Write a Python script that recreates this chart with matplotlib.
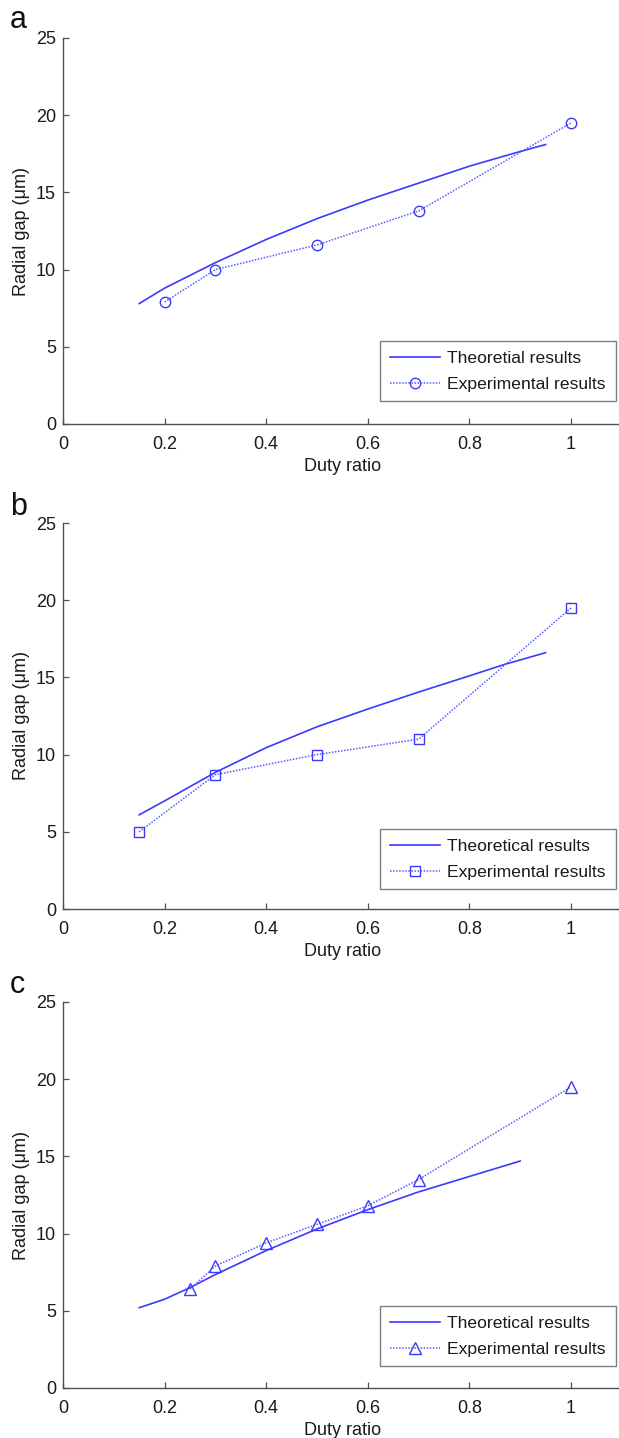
import matplotlib
matplotlib.use("Agg")
import matplotlib.pyplot as plt

plt.rcParams['font.family'] = ['Liberation Sans', 'DejaVu Sans']

# ---- data ----
theo_a_x = [0.15, 0.2, 0.3, 0.4, 0.5, 0.6, 0.7, 0.8, 0.9, 0.95]
theo_a_y = [7.8, 8.8, 10.45, 11.95, 13.3, 14.5, 15.6, 16.7, 17.65, 18.1]
exp_a_x = [0.2, 0.3, 0.5, 0.7, 1.0]
exp_a_y = [7.9, 10.0, 11.6, 13.8, 19.5]

theo_b_x = [0.15, 0.2, 0.3, 0.4, 0.5, 0.6, 0.7, 0.8, 0.87, 0.95]
theo_b_y = [6.1, 7.0, 8.85, 10.45, 11.8, 12.95, 14.05, 15.1, 15.85, 16.6]
exp_b_x = [0.15, 0.3, 0.5, 0.7, 1.0]
exp_b_y = [5.0, 8.7, 10.0, 11.0, 19.5]

theo_c_x = [0.15, 0.2, 0.25, 0.3, 0.4, 0.5, 0.6, 0.7, 0.8, 0.9]
theo_c_y = [5.2, 5.75, 6.5, 7.35, 8.9, 10.3, 11.55, 12.7, 13.7, 14.7]
exp_c_x = [0.25, 0.3, 0.4, 0.5, 0.6, 0.7, 1.0]
exp_c_y = [6.4, 7.9, 9.4, 10.6, 11.8, 13.5, 19.5]

panel_letters = ['a', 'b', 'c']
theo_labels = ['Theoretial results', 'Theoretical results', 'Theoretical results']
exp_label = 'Experimental results'
markers = ['o', 's', '^']
x_ticks = [0, 0.2, 0.4, 0.6, 0.8, 1]
x_ticklabels = ['0', '0.2', '0.4', '0.6', '0.8', '1']
y_ticks = [0, 5, 10, 15, 20, 25]

theo_x = [theo_a_x, theo_b_x, theo_c_x]
theo_y = [theo_a_y, theo_b_y, theo_c_y]
exp_x = [exp_a_x, exp_b_x, exp_c_x]
exp_y = [exp_a_y, exp_b_y, exp_c_y]

W, H = 619, 1438
fig = plt.figure(figsize=(W / 100, H / 100), dpi=100)

left_px = 63
px_per_unit = 508.0
tops = [38, 523, 1002]
bottoms = [424, 909, 1388]
legend_tops = [341, 829, 1306]
letter_base = [28, 515, 993]

line_col = '#3a3aff'
spine_col = '#505050'
txt_col = '#1a1a1a'

for i in range(3):
    ax_w = W - left_px
    hpx = bottoms[i] - tops[i]
    ax = fig.add_axes([left_px / W, 1 - bottoms[i] / H, ax_w / W, hpx / H])
    ax.plot(theo_x[i], theo_y[i], '-', color=line_col, lw=1.2,
            label=theo_labels[i])
    ax.plot(exp_x[i], exp_y[i], linestyle=(0, (1, 1)), color='#5a5aff', lw=1.1,
            marker=markers[i], markersize=8 if i == 2 else 7.5,
            markerfacecolor='none', markeredgecolor=line_col,
            markeredgewidth=1.0, label=exp_label)
    ax.set_xlim(0, ax_w / px_per_unit)
    ax.set_ylim(0, 25)
    ax.set_xticks(x_ticks)
    ax.set_xticklabels(x_ticklabels)
    ax.set_yticks(y_ticks)
    for s in ['top', 'right']:
        ax.spines[s].set_visible(False)
    for s in ['left', 'bottom']:
        ax.spines[s].set_color(spine_col)
        ax.spines[s].set_linewidth(1.0)
    ax.tick_params(direction='in', length=4, width=0.9, color=spine_col,
                   labelsize=13, labelcolor=txt_col)
    ax.tick_params(axis='x', pad=8.5)
    ax.tick_params(axis='y', pad=5)
    ax.set_ylabel('Radial gap (μm)', fontsize=13, color=txt_col, va='center')
    ax.yaxis.set_label_coords(-(left_px - 22) / ax_w, 0.5)
    ax.set_xlabel('Duty ratio', fontsize=13, color=txt_col, va='center')
    ax.xaxis.set_label_coords((343 - left_px) / ax_w, -0.11)
    leg = ax.legend(loc='upper left',
                    bbox_to_anchor=((380 - left_px) / ax_w,
                                    (bottoms[i] - legend_tops[i]) / hpx),
                    borderaxespad=0, fontsize=12.6, frameon=True, fancybox=False,
                    handlelength=2.9, handletextpad=0.4, borderpad=0.55,
                    labelspacing=0.6, edgecolor='#606060')
    leg.get_frame().set_linewidth(1.0)
    for t in leg.get_texts():
        t.set_color(txt_col)
    fig.text(10 / W, 1 - letter_base[i] / H, panel_letters[i], fontsize=22,
             va='baseline', ha='left', color='#111111')

fig.savefig('out.png', dpi=100)
